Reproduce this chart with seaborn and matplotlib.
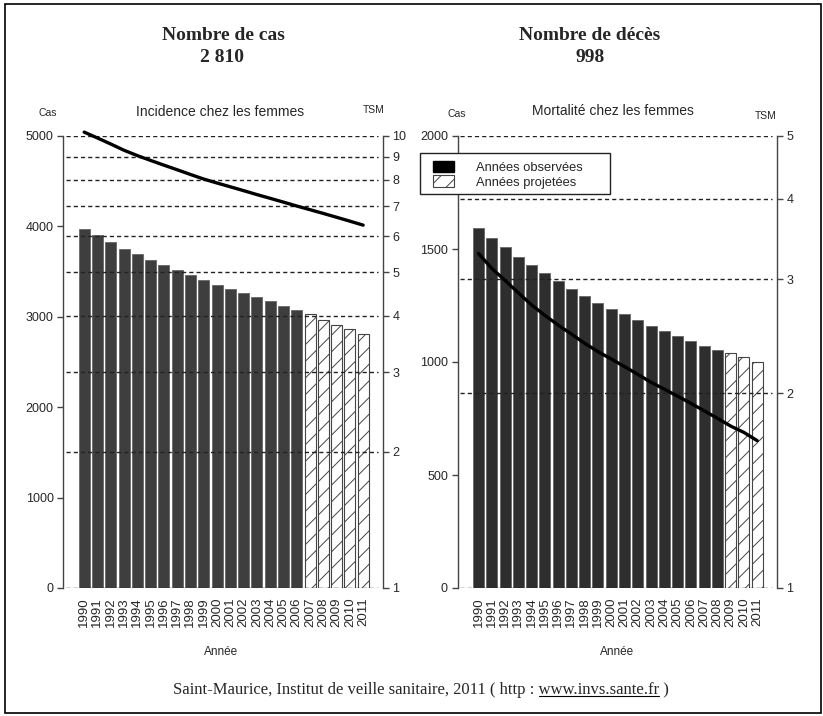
import numpy as np
import pandas as pd
import matplotlib
matplotlib.use('Agg')
import matplotlib.pyplot as plt
from matplotlib.patches import Patch, Rectangle
from matplotlib.lines import Line2D
import seaborn as sns

# ---- data ----
years = [str(y) for y in range(1990, 2012)]

cas_values = [3970, 3905, 3831, 3754, 3698, 3632, 3573, 3514, 3459, 3411, 3355,
              3307, 3263, 3219, 3171, 3116, 3072, 3028, 2968, 2913, 2865, 2810]
cas_last_observed = 2006
cas_tsm = [10.2, 9.9, 9.6, 9.3, 9.05, 8.83, 8.62, 8.42, 8.22, 8.03, 7.87,
           7.72, 7.57, 7.42, 7.28, 7.14, 7.00, 6.87, 6.74, 6.61, 6.48, 6.35]

deces_values = [1594, 1549, 1507, 1466, 1431, 1394, 1358, 1324, 1293, 1262, 1235,
                1212, 1184, 1161, 1139, 1115, 1094, 1072, 1053, 1040, 1021, 998]
deces_last_observed = 2008
deces_tsm = [3.29, 3.12, 2.99, 2.86, 2.74, 2.64, 2.55, 2.47, 2.39, 2.32, 2.26,
             2.20, 2.14, 2.08, 2.03, 1.98, 1.93, 1.88, 1.83, 1.78, 1.74, 1.69]

obs_label = 'Années observées'
proj_label = 'Années projetées'

W, H = 823, 716

sns.set_theme(style='white')
plt.rcParams['font.family'] = ['Liberation Sans', 'DejaVu Sans']
plt.rcParams['hatch.linewidth'] = 0.7

fig = plt.figure(figsize=(W / 100, H / 100), dpi=100)


def fx(px):
    return px / W


def fy(py):
    return 1 - py / H


GRID = dict(color='#222222', linewidth=1.0, linestyle=(0, (3, 2.2)))
SPINE = '#444444'
HATCH = '//'


def panel(left_px, width_px, values, last_obs, tsm, ymax, yticks, tsm_max, bar_color):
    ax = fig.add_axes([fx(left_px), fy(588), width_px / W, 452 / H])
    df = pd.DataFrame({
        'annee': years,
        'cas': values,
        'statut': [obs_label if int(y) <= last_obs else proj_label for y in years],
    })
    sns.barplot(data=df, x='annee', y='cas', hue='statut',
                palette={obs_label: bar_color, proj_label: 'white'},
                dodge=False, width=0.83, legend=False, ax=ax,
                edgecolor='#666666', linewidth=0.6)
    for p in ax.patches:
        if p.get_facecolor()[0] > 0.9:
            p.set_hatch(HATCH)
            p.set_edgecolor('#444444')
            p.set_linewidth(0.8)

    ax.set_ylim(0, ymax)
    ax.set_yticks(yticks)
    ax.set_yticklabels([str(t) for t in yticks], fontsize=9)
    ax.set_xticks(range(len(years)))
    ax.set_xticklabels(years, rotation=90, fontsize=9.5)
    ax.tick_params(axis='x', length=0, pad=7)
    ax.tick_params(axis='y', length=4, width=1, color=SPINE, pad=3, left=True)
    ax.set_xlabel('')
    ax.set_ylabel('')
    for s in ['top', 'bottom', 'right']:
        ax.spines[s].set_visible(False)
    ax.spines['left'].set_color(SPINE)
    ax.spines['left'].set_linewidth(1)

    ax2 = ax.twinx()
    ax2.set_yscale('log')
    ax2.set_ylim(1, tsm_max)
    sns.lineplot(x=np.arange(len(years)), y=tsm, ax=ax2, color='black',
                 linewidth=2.4, zorder=5, clip_on=False)
    ticks = list(range(1, tsm_max + 1))
    ax2.set_yticks(ticks)
    ax2.set_yticklabels([str(t) for t in ticks], fontsize=9)
    ax2.minorticks_off()
    ax2.tick_params(axis='y', length=4, width=1, color=SPINE, pad=3, right=True)
    for t in ticks:
        ax2.axhline(t, xmin=0.008, xmax=0.985, zorder=3, **GRID)
    for s in ['top', 'bottom', 'left']:
        ax2.spines[s].set_visible(False)
    ax2.spines['right'].set_color(SPINE)
    ax2.spines['right'].set_linewidth(1)
    ax2.set_ylabel('')

    ax.set_xlim(-1.57, len(years) - 1 + 1.47)
    ax2.set_xlim(-1.57, len(years) - 1 + 1.47)
    return ax, ax2


panel(63.3, 319.4, cas_values, cas_last_observed, cas_tsm, 5000,
      [0, 1000, 2000, 3000, 4000, 5000], 10, '#3e3e3e')
panel(457.7, 319.0, deces_values, deces_last_observed, deces_tsm, 2000,
      [0, 500, 1000, 1500, 2000], 5, '#2e2e2e')

# ---- titles ----
serif = ['Liberation Serif', 'DejaVu Serif']
fig.text(fx(223), fy(35), 'Nombre de cas', family=serif, fontsize=14,
         fontweight='bold', ha='center', va='center')
fig.text(fx(222), fy(58), '2 810', family=serif, fontsize=14,
         fontweight='bold', ha='center', va='center')
fig.text(fx(590), fy(35), 'Nombre de décès', family=serif, fontsize=14,
         fontweight='bold', ha='center', va='center')
fig.text(fx(590), fy(58), '998', family=serif, fontsize=14,
         fontweight='bold', ha='center', va='center')

fig.text(fx(48), fy(113), 'Cas', fontsize=7.5, ha='center', va='center')
fig.text(fx(220), fy(112), 'Incidence chez les femmes', fontsize=10,
         ha='center', va='center')
fig.text(fx(374), fy(110), 'TSM', fontsize=7.5, ha='center', va='center')
fig.text(fx(457), fy(114), 'Cas', fontsize=7.5, ha='center', va='center')
fig.text(fx(613), fy(111), 'Mortalité chez les femmes', fontsize=10,
         ha='center', va='center')
fig.text(fx(766), fy(116), 'TSM', fontsize=7.5, ha='center', va='center')

fig.text(fx(221), fy(652), 'Année', fontsize=8.5, ha='center', va='center')
fig.text(fx(617), fy(652), 'Année', fontsize=8.5, ha='center', va='center')

# ---- legend ----
fig.add_artist(Rectangle((fx(420), fy(194)), (610 - 420) / W, (194 - 153) / H,
                         transform=fig.transFigure, facecolor='white',
                         edgecolor='#222222', linewidth=1.0, zorder=4))
handles = [Patch(facecolor='black', edgecolor='black'),
           Patch(facecolor='white', edgecolor='#444444', hatch=HATCH, linewidth=0.8)]
leg = fig.legend(handles, [obs_label, proj_label], loc='upper left',
                 bbox_to_anchor=(fx(420), fy(148)), bbox_transform=fig.transFigure,
                 frameon=False, fontsize=9.3, borderpad=1.0, borderaxespad=0,
                 handlelength=1.6, handleheight=1.0, handletextpad=1.75,
                 labelspacing=0.1)
leg.set_zorder(6)

# ---- footer with underlined url ----
renderer = fig.canvas.get_renderer()
foot_kw = dict(family=serif, fontsize=12)
prefix = 'Saint-Maurice, Institut de veille sanitaire, 2011 ( http :'
url = 'www.invs.sante.fr'
full = prefix + ' ' + url + ' )'


def text_w(s):
    t = fig.text(0, 0, s, **foot_kw)
    w = t.get_window_extent(renderer).width
    t.remove()
    return w


full_w = text_w(full)
space_w = text_w('a a') - text_w('aa')
x0 = 173
fig.text(fx(x0), fy(694), full, ha='left', va='baseline', **foot_kw)
ux = x0 + text_w(prefix) + space_w
uw = text_w(url)
fig.add_artist(Line2D([fx(ux), fx(ux + uw)], [fy(696), fy(696)],
                      transform=fig.transFigure, color='black', linewidth=0.8))

# ---- outer frame ----
fig.add_artist(Rectangle((fx(5), fy(713)), (821 - 5) / W, (713 - 4) / H,
                         transform=fig.transFigure, fill=False,
                         edgecolor='black', linewidth=1.2))

fig.savefig('out.png', dpi=100)
